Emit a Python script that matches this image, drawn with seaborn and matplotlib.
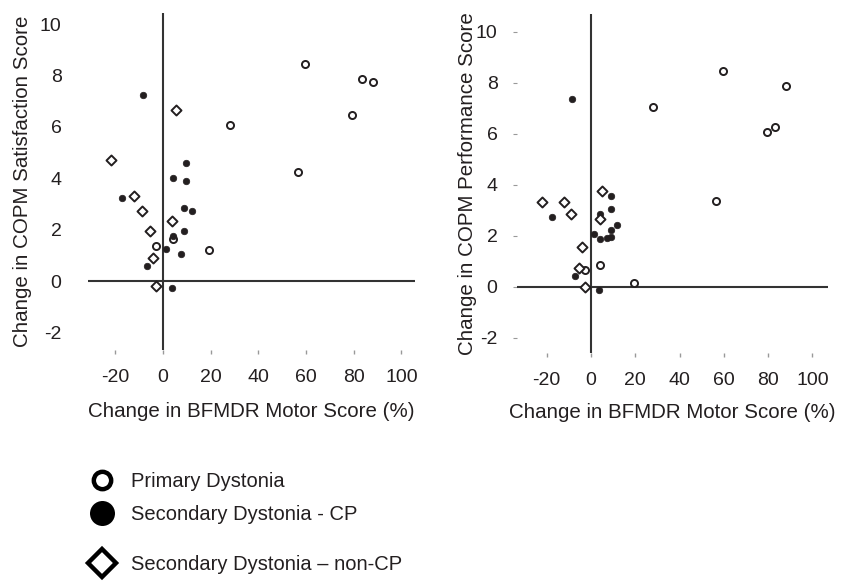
import pandas as pd
import matplotlib
matplotlib.use('Agg')
import matplotlib.pyplot as plt
from matplotlib.lines import Line2D
import seaborn as sns

groups = ['Primary Dystonia', 'Secondary Dystonia - CP', 'Secondary Dystonia \u2013 non-CP']

# satisfaction panel
sat_primary_x = [59.7, 83.3, 87.9, 79.1, 28.1, 56.7, 19.4, -2.9, 4.2]
sat_primary_y = [8.44, 7.85, 7.75, 6.48, 6.07, 4.26, 1.21, 1.37, 1.64]
sat_cp_x = [-8.5, 9.5, 4.1, 9.5, -17.3, 8.9, 12.0, 8.9, 4.1, 1.5, 7.4, -6.7, 3.9]
sat_cp_y = [7.25, 4.60, 4.01, 3.91, 3.23, 2.83, 2.74, 1.96, 1.76, 1.26, 1.07, 0.59, -0.28]
sat_ncp_x = [5.7, -21.7, -12.0, -8.8, 3.8, -5.3, -4.1, -2.7]
sat_ncp_y = [6.66, 4.70, 3.32, 2.74, 2.35, 1.96, 0.89, -0.19]

# performance panel
perf_primary_x = [59.7, 88.0, 28.1, 83.2, 79.3, 56.6, 4.2, -2.8, 19.4]
perf_primary_y = [8.46, 7.86, 7.07, 6.27, 6.07, 3.35, 0.84, 0.65, 0.16]
perf_cp_x = [-8.7, 9.2, 9.2, 4.2, -17.6, 11.9, 8.9, 1.2, 3.9, 7.4, 9.0, -7.1, 3.8]
perf_cp_y = [7.37, 3.56, 3.04, 2.86, 2.75, 2.42, 2.24, 2.05, 1.86, 1.93, 1.94, 0.44, -0.14]
perf_ncp_x = [5.1, -22.0, -12.2, -9.0, 3.9, -4.1, -5.6, -2.7]
perf_ncp_y = [3.76, 3.34, 3.34, 2.86, 2.65, 1.55, 0.75, -0.03]

x_ticks = [-20, 0, 20, 40, 60, 80, 100]
y_ticks = [-2, 0, 2, 4, 6, 8, 10]


def make_df(px, py, cx, cy, nx, ny):
    parts = []
    for g, xs, ys in zip(groups, [px, cx, nx], [py, cy, ny]):
        parts.append(pd.DataFrame({'x': xs, 'y': ys, 'group': g}))
    return pd.concat(parts, ignore_index=True)


sat_df = make_df(sat_primary_x, sat_primary_y, sat_cp_x, sat_cp_y, sat_ncp_x, sat_ncp_y)
perf_df = make_df(perf_primary_x, perf_primary_y, perf_cp_x, perf_cp_y, perf_ncp_x, perf_ncp_y)

sns.set_style('white')
plt.rcParams['font.family'] = ['Liberation Sans', 'DejaVu Sans']
plt.rcParams['axes.unicode_minus'] = False
ink = '#231f20'
line_col = '#333333'

styles = {
    groups[0]: dict(marker='o', s=26, facecolor='white', edgecolor=ink, linewidth=1.4),
    groups[1]: dict(marker='o', s=22, facecolor=ink, edgecolor=ink, linewidth=0.5),
    groups[2]: dict(marker='D', s=26, facecolor='white', edgecolor=ink, linewidth=1.4),
}

fig = plt.figure(figsize=(8.52, 5.83), dpi=100)
ax1 = fig.add_axes([88 / 852, 1 - 350 / 583, 327 / 852, 337 / 583])
ax2 = fig.add_axes([517 / 852, 1 - 353 / 583, 311 / 852, 339 / 583])

panels = [
    (ax1, sat_df, 'Change in COPM Satisfaction Score', (-31.4, 105.7), (-2.68, 10.43)),
    (ax2, perf_df, 'Change in COPM Performance Score', (-33.4, 107.0), (-2.6, 10.7)),
]

for ax, df, ylab, xl, yl in panels:
    ax.axhline(0, color=line_col, lw=1.5, zorder=1)
    ax.axvline(0, color=line_col, lw=1.5, zorder=1)
    for g in groups:
        sns.scatterplot(data=df[df['group'] == g], x='x', y='y', ax=ax, zorder=3, **styles[g])
    ax.set_xlim(*xl)
    ax.set_ylim(*yl)
    ax.set_xticks(x_ticks)
    ax.set_yticks(y_ticks)
    for sp in ax.spines.values():
        sp.set_visible(False)
    ax.set_xlabel('Change in BFMDR Motor Score (%)', fontsize=14.8, color=ink)
    ax.set_ylabel(ylab, fontsize=14.8, color=ink)
    ax.tick_params(axis='x', which='both', bottom=True, direction='out', length=3, width=1,
                   color='#999999', labelsize=14, labelcolor=ink, pad=11)

ax1.tick_params(axis='y', left=True, length=0, labelsize=14, labelcolor=ink, pad=19)
ax2.tick_params(axis='y', left=True, direction='out', length=3, width=0.8, color='#999999',
                labelsize=14, labelcolor=ink, pad=11)

ax1.xaxis.set_label_coords(0.5, -0.154)
ax2.xaxis.set_label_coords(0.5, -0.147)
ax1.yaxis.set_label_coords(-0.17, 0.5)
ax2.yaxis.set_label_coords(-0.129, 0.5)

h1 = [
    Line2D([], [], marker='o', ls='', markersize=12.5, markerfacecolor='white',
           markeredgecolor='black', markeredgewidth=3.2),
    Line2D([], [], marker='o', ls='', markersize=18, markerfacecolor='black',
           markeredgecolor='black', markeredgewidth=0),
]
h2 = [
    Line2D([], [], marker='D', ls='', markersize=14, markerfacecolor='white',
           markeredgecolor='black', markeredgewidth=3.2),
]
leg1 = fig.legend(h1, groups[:2], loc='center left', bbox_to_anchor=(90 / 852, 1 - 498 / 583),
                  frameon=False, fontsize=14.5, labelspacing=0.7, handlelength=1.2,
                  handletextpad=0.85, borderpad=0, borderaxespad=0, labelcolor=ink)
leg2 = fig.legend(h2, groups[2:], loc='center left', bbox_to_anchor=(90 / 852, 1 - 565 / 583),
                  frameon=False, fontsize=14.5, handlelength=1.2,
                  handletextpad=0.85, borderpad=0, borderaxespad=0, labelcolor=ink)

fig.savefig('out.png', dpi=100)
